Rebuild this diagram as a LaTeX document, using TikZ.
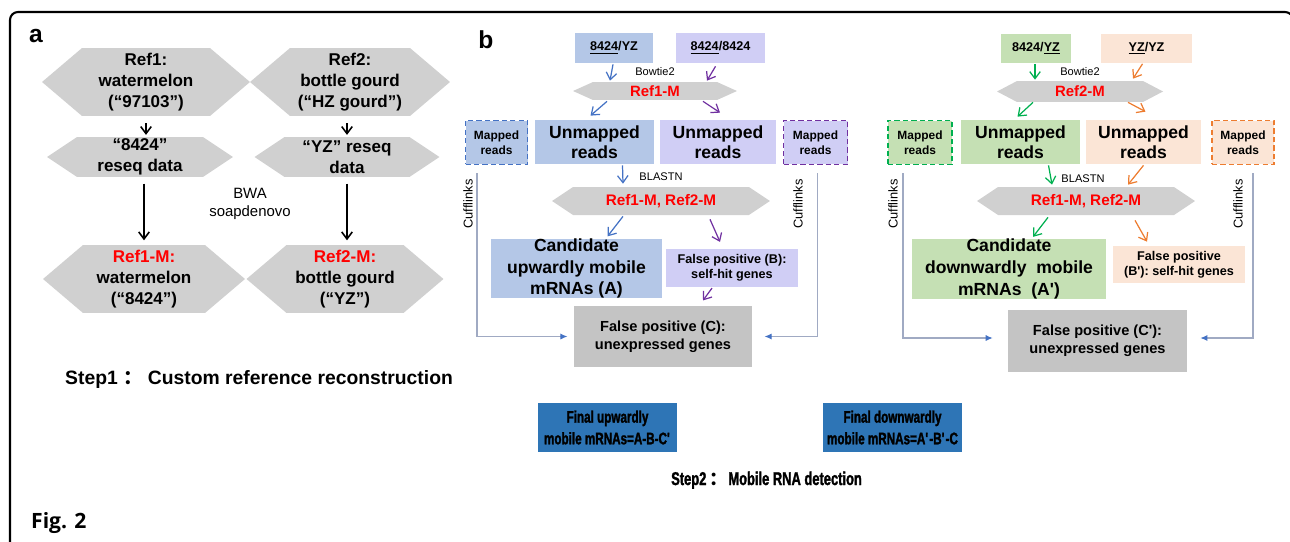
\documentclass[tikz,border=0pt]{standalone}
\usepackage{fontspec}
\setmainfont{Liberation Sans}
\newfontfamily\narrowsf{Liberation Sans Bold}[FakeStretch=0.7,FakeBold=1.6]
\newfontfamily\cjk{Noto Sans CJK SC}
\newfontfamily\figfont{Open Sans}
\usepackage{tikz}
\usetikzlibrary{arrows.meta,calc}
\definecolor{hexgray}{RGB}{208,208,208}
\definecolor{boxgray}{RGB}{196,196,196}
\definecolor{bluelt}{RGB}{180,199,231}
\definecolor{lavlt}{RGB}{208,206,245}
\definecolor{greenlt}{RGB}{197,224,180}
\definecolor{peachlt}{RGB}{251,229,214}
\definecolor{bluedk}{RGB}{68,114,196}
\definecolor{purpdk}{RGB}{112,48,160}
\definecolor{greendk}{RGB}{0,176,80}
\definecolor{orangedk}{RGB}{237,125,49}
\definecolor{finblue}{RGB}{46,117,182}
\definecolor{cuffline}{RGB}{160,170,195}
\newcommand{\fs}[2]{\fontsize{#1}{#2}\bfseries\selectfont}
\newcommand{\apos}{\textquotesingle}

\begin{document}
\begin{tikzpicture}[x=0.02cm,y=-0.02cm,
  hexa/.style={inner sep=0pt,align=center,
    path picture={\fill[hexgray] (path picture bounding box.west)
      -- ([xshift=#1]path picture bounding box.north west)
      -- ([xshift=-#1]path picture bounding box.north east)
      -- (path picture bounding box.east)
      -- ([xshift=-#1]path picture bounding box.south east)
      -- ([xshift=#1]path picture bounding box.south west) -- cycle;}},
  bighex/.style={hexa=0.8cm,minimum height=1.36cm,font=\fs{9.7}{11.9}},
  inbox/.style={inner sep=0pt,minimum height=0.6cm,font=\fs{7.2}{8}},
  mapbox/.style={draw,dash pattern=on 3pt off 1.8pt,line width=1.1pt,inner sep=0pt,
    minimum width=1.24cm,minimum height=0.88cm,align=center,font=\fs{6.8}{8.5}},
  unbox/.style={inner sep=0pt,minimum height=0.88cm,align=center,font=\fs{10}{11.5}},
  candbox/.style={inner sep=0pt,minimum height=1.15cm,align=center,font=\fs{10}{12.3}},
  fpbox/.style={inner sep=0pt,minimum width=2.64cm,minimum height=0.75cm,align=center,font=\fs{7.2}{8.7}},
  cbox/.style={fill=boxgray,inner sep=0pt,minimum width=3.57cm,minimum height=1.23cm,
    align=center,font=\fs{8.3}{10.4}},
  finbox/.style={fill=finblue,inner sep=0pt,minimum width=2.78cm,minimum height=0.98cm,
    align=center,font=\fs{9.5}{12.3}\narrowsf},
  tool/.style={font=\fs{6.3}{7}\mdseries},
  cufftxt/.style={font=\fs{7.3}{8}\mdseries,rotate=90},
  blk/.style={line width=0.9pt,-{Straight Barb[length=4pt,width=6pt]}},
  arr/.style={line width=0.7pt,-{Straight Barb[length=4pt,width=6pt]}},
  cuff/.style={draw=cuffline,line width=0.6pt,-{Latex[length=4pt,width=3.5pt,color=bluedk]}}]
\useasboundingbox (0,0) rectangle (1290,541);
\draw[line width=1.2pt,rounded corners=0.16cm] (10,560) -- (10,12) -- (1293,12) -- (1293,560);

\node[font=\fs{14}{16}] (la) at (36,36) {a};
\node[bighex,minimum width=4.16cm] (ref1) at (146,82) {Ref1:\\watermelon\\(“97103”)};
\node[bighex,minimum width=4cm] (ref2) at (350,82) {Ref2:\\bottle gourd\\(“HZ gourd”)};
\node[hexa=0.6cm,minimum width=3.72cm,minimum height=0.8cm,font=\fs{9.7}{11.9}] (seq1) at (140,157) {“8424”\\reseq data};
\node[hexa=0.6cm,minimum width=3.7cm,minimum height=0.8cm,font=\fs{9.7}{11.9}] (seq2) at (347,157) {“YZ” reseq\\data};
\node[bighex,minimum width=4.04cm] (refm1) at (144,279) {\textcolor{red}{Ref1-M:}\\watermelon\\(“8424”)};
\node[bighex,minimum width=3.94cm] (refm2) at (345,279) {\textcolor{red}{Ref2-M:}\\bottle gourd\\(“YZ”)};
\node[font=\fs{8.5}{10.4}\mdseries,align=center] (bwa) at (250,204) {BWA\\soapdenovo};
\node[font=\fs{11}{13},anchor=base west] (step1) at (59,384) {Step1 {\cjk ：} Custom reference reconstruction};
\draw[blk,shorten <=4pt,shorten >=1pt] (ref1.south) -- (ref1.south |- seq1.north);
\draw[blk,shorten <=4pt,shorten >=1pt] (seq2.north |- ref2.south) -- (seq2.north);
\draw[blk,shorten <=3.5pt,shorten >=2.5pt] (refm1.north |- seq1.south) -- (refm1.north);
\draw[blk,shorten <=3.5pt,shorten >=2.5pt] (seq2.south) -- (seq2.south |- refm2.north);

\node[font=\fs{14}{16}] (lb) at (486,40) {b};
\node[inbox,fill=bluelt,minimum width=1.56cm] (in1) at (614,48) {\underline{8424}/YZ};
\node[inbox,fill=lavlt,minimum width=1.78cm] (in2) at (720.5,48) {\underline{8424}/8424};
\node[tool] (bt1) at (655,72) {Bowtie2};
\node[hexa=0.4cm,minimum width=3.28cm,minimum height=0.36cm,font=\fs{8.5}{9}] (hexb1) at (655,91) {\textcolor{red}{Ref1-M}};
\node[mapbox,draw=bluedk,fill=bluelt] (mapl1) at (496.5,142.5) {Mapped\\reads};
\node[unbox,fill=bluelt,minimum width=2.38cm] (unl1) at (594.5,142) {Unmapped\\reads};
\node[unbox,fill=lavlt,minimum width=2.32cm] (unl2) at (718,142) {Unmapped\\reads};
\node[mapbox,draw=purpdk,fill=lavlt,minimum width=1.28cm] (mapl2) at (815.5,142.5) {Mapped\\reads};
\node[tool] (bl1) at (661,177) {BLASTN};
\node[hexa=0.42cm,minimum width=4.36cm,minimum height=0.56cm,font=\fs{8.7}{9}] (hexb2) at (661,201) {\textcolor{red}{Ref1-M, Ref2-M}};
\node[candbox,fill=bluelt,minimum width=3.42cm] (canda) at (576.5,268.5) {Candidate\\upwardly mobile\\mRNAs (A)};
\node[fpbox,fill=lavlt] (fpb) at (732,268) {False positive (B):\\self-hit genes};
\node[cbox] (fpc) at (663,336.5) {False positive (C):\\unexpressed genes};
\node[finbox] (fina) at (607.5,427.5) {Final upwardly\\mobile mRNAs=A-B-C\apos};
\node[cufftxt] (cf1) at (468,204) {Cufflinks};
\node[cufftxt] (cf2) at (798,204) {Cufflinks};
\draw[arr,bluedk] ($(in1.south)+(-1,1)$) -- ($(hexb1.north)+(-45,-1)$);
\draw[arr,purpdk] ($(in2.south)+(-5,3)$) -- ($(hexb1.north)+(52,-1)$);
\draw[arr,bluedk] ($(hexb1.south)+(-48,1)$) -- ($(unl1.north)+(-4,-4)$);
\draw[arr,purpdk] ($(hexb1.south)+(48,1)$) -- ($(unl2.north)+(2,-7)$);
\draw[arr,bluedk] ($(unl1.south)+(28,1)$) -- ($(hexb2.north)+(-38,-3)$);
\draw[arr,bluedk] ($(hexb2.south)+(-38,1)$) -- ($(canda.north)+(31,-2)$);
\draw[arr,purpdk] ($(hexb2.south)+(49,4)$) -- ($(fpb.north)+(-12,-7)$);
\draw[arr,purpdk] ($(fpb.south)+(-20,1)$) -- ($(fpc.north)+(40,-5)$);
\draw[cuff] ($(mapl1.south)+(-19.5,8)$) |- ($(fpc.west)+(-6,0)$);
\draw[cuff] ($(mapl2.south)+(2,8)$) |- ($(fpc.east)+(12,0)$);

\node[inbox,fill=greenlt,minimum width=1.4cm] (in3) at (1036,48.5) {8424/\underline{YZ}};
\node[inbox,fill=peachlt,minimum width=1.82cm] (in4) at (1146.5,48.5) {\underline{YZ}/YZ};
\node[tool] (bt2) at (1080,72) {Bowtie2};
\node[hexa=0.4cm,minimum width=3.32cm,minimum height=0.42cm,font=\fs{8.5}{9}] (hexb3) at (1080,91.5) {\textcolor{red}{Ref2-M}};
\node[mapbox,draw=greendk,fill=greenlt,minimum width=1.28cm] (mapr1) at (920,142.5) {Mapped\\reads};
\node[unbox,fill=greenlt,minimum width=2.38cm] (unr1) at (1020.5,142) {Unmapped\\reads};
\node[unbox,fill=peachlt,minimum width=2.3cm] (unr2) at (1143.5,142) {Unmapped\\reads};
\node[mapbox,draw=orangedk,fill=peachlt] (mapr2) at (1243,142.5) {Mapped\\reads};
\node[tool] (bl2) at (1083,179) {BLASTN};
\node[hexa=0.42cm,minimum width=4.36cm,minimum height=0.56cm,font=\fs{8.7}{9}] (hexb4) at (1086,201) {\textcolor{red}{Ref1-M, Ref2-M}};
\node[candbox,fill=greenlt,minimum width=3.88cm,minimum height=1.16cm] (candb) at (1009,269) {Candidate\\downwardly\ \ mobile\\mRNAs\ \ (A\apos)};
\node[fpbox,fill=peachlt,minimum height=0.74cm] (fpb2) at (1179,264.5) {False positive\\(B\apos): self-hit genes};
\node[cbox,minimum width=3.58cm,minimum height=1.24cm] (fpc2) at (1097.5,341) {False positive (C\apos):\\unexpressed genes};
\node[finbox] (finb) at (892.5,427.5) {Final downwardly\\mobile mRNAs=A\apos-B\apos-C};
\node[cufftxt] (cf3) at (893,204) {Cufflinks};
\node[cufftxt] (cf4) at (1238,204) {Cufflinks};
\node[font=\fs{10.5}{12}\narrowsf,anchor=base west] (step2) at (665,485) {Step2 {\cjk\bfseries ：}Mobile RNA detection};
\draw[arr,greendk] ($(in3.south)+(-1,0)$) -- ($(hexb3.north)+(-45,-1)$);
\draw[arr,orangedk] ($(in4.south)+(-4,0)$) -- ($(hexb3.north)+(53,-2)$);
\draw[arr,greendk] ($(hexb3.south)+(-47,0)$) -- ($(unr1.north)+(-3,-3)$);
\draw[arr,orangedk] ($(hexb3.south)+(48,0)$) -- ($(unr2.north)+(2,-8)$);
\draw[arr,greendk] ($(unr1.south)+(28,1)$) -- ($(hexb4.north)+(-34,-2)$);
\draw[arr,orangedk] ($(unr2.south)+(0,1)$) -- ($(hexb4.north)+(42,-2)$);
\draw[arr,greendk] ($(hexb4.south)+(-38,2)$) -- ($(candb.north)+(24,-2)$);
\draw[arr,orangedk] ($(hexb4.south)+(49,5)$) -- ($(fpb2.north)+(-32,-4)$);
\draw[cuff] ($(mapr1.south)+(-17,8)$) |- ($(fpc2.west)+(-15,-3)$);
\draw[cuff] ($(mapr2.south)+(10,8)$) |- ($(fpc2.east)+(13,-3)$);

\node[font=\figfont\fs{12}{14},anchor=base west] (fig) at (25,528) {Fig. 2};
\end{tikzpicture}
\end{document}
